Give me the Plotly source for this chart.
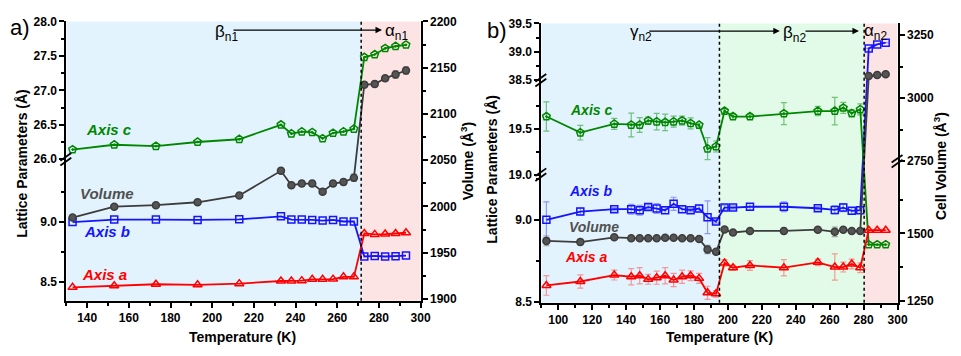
import plotly.graph_objects as go

# ---------------- data: panel a ----------------
T_a = [133, 153, 173, 193, 213, 233, 238, 243, 248, 253, 258, 263, 268, 273, 278, 283, 288, 293]
c_a = [26.14, 26.21, 26.19, 26.25, 26.29, 26.50, 26.37, 26.40, 26.39, 26.30, 26.38, 26.40, 26.44,
       27.48, 27.52, 27.61, 27.64, 27.66]
b_a = [8.998, 9.019, 9.019, 9.016, 9.021, 9.046, 9.019, 9.019, 9.016, 9.011, 9.016, 9.003, 9.003,
       8.710, 8.715, 8.710, 8.712, 8.718]
a_a = [8.452, 8.465, 8.478, 8.473, 8.483, 8.505, 8.505, 8.508, 8.519, 8.519, 8.521, 8.540, 8.540,
       8.903, 8.895, 8.898, 8.903, 8.909]
V_a = [1988, 1999.7, 2001.4, 2004.5, 2011.8, 2038.5, 2023, 2024.7, 2024.7, 2016, 2024.7, 2026.4, 2031,
       2131.6, 2132.3, 2138.5, 2142.7, 2147]
eV_a = [2, 2, 2, 2, 2, 3, 3, 3, 3, 3, 3, 3, 4, 3, 3, 3, 4, 4]
phase_a = [130, 271.5, 300]

# ---------------- data: panel b ----------------
T_b = [93, 113, 133, 143, 148, 153, 158, 163, 168, 173, 178, 183, 188, 193, 198, 203, 213, 233,
       253, 263, 268, 273, 278, 283, 288, 293]
b_b = [9.000, 9.051, 9.065, 9.065, 9.059, 9.078, 9.069, 9.059, 9.098, 9.065, 9.059, 9.069, 9.016,
       8.990, 9.075, 9.075, 9.080, 9.080, 9.071, 9.061, 9.075, 9.055, 9.059, 39.06, 39.13, 39.16]
c_b = [19.634, 19.458, 19.553, 19.542, 19.542, 19.589, 19.578, 19.571, 19.578, 19.589, 19.560,
       19.542, 19.283, 19.307, 19.694, 19.634, 19.634, 19.666, 19.694, 19.694, 19.729, 19.669,
       19.711, 8.849, 8.849, 8.849]
a_b = [8.600, 8.624, 8.663, 8.653, 8.659, 8.637, 8.647, 8.659, 8.633, 8.653, 8.659, 8.643, 8.555,
       8.549, 8.737, 8.708, 8.722, 8.708, 8.741, 8.712, 8.712, 8.731, 8.708, 8.937, 8.937, 8.937]
V_b = [1472.5, 1467.9, 1485.7, 1482, 1482, 1482, 1482, 1484.5, 1484.5, 1482, 1482, 1479.8, 1440.5,
       1432, 1514.3, 1503.6, 1509.5, 1509.5, 1514, 1506, 1514, 1509.5, 1509.5, 3087, 3091, 3094]
eb_b = [0.11, 0.02, 0.01, 0.03, 0.03, 0.015, 0.03, 0.02, 0.04, 0.02, 0.01, 0.02, 0.10, 0.01, 0.015,
        0.01, 0.02, 0.03, 0.01, 0.025, 0.025, 0.02, 0.02, 0, 0, 0]
ec_b = [0.16, 0.08, 0.06, 0.13, 0.08, 0.04, 0.09, 0.09, 0.06, 0.05, 0.06, 0.02, 0.12, 0.06, 0.02,
        0.03, 0.03, 0.12, 0.05, 0.15, 0.06, 0.04, 0.06, 0, 0, 0]
ea_b = [0.06, 0.04, 0.03, 0.05, 0.05, 0.03, 0.04, 0.05, 0.04, 0.04, 0.03, 0.03, 0.04, 0.02, 0.02,
        0.015, 0.03, 0.05, 0.02, 0.08, 0.03, 0.03, 0.03, 0, 0, 0]
eV_b = [18, 10, 6, 6, 5, 5, 5, 5, 5, 5, 5, 5, 15, 8, 5, 5, 6, 10, 6, 18, 6, 6, 8, 0, 0, 0]
phase_b = [90, 195, 280.3, 300]

# tick labels
ticks_aL = [8.5, 9.0, 26.0, 26.5, 27.0, 27.5, 28.0]
minor_aL = [8.75, 9.25, 26.25, 26.75, 27.25, 27.75]
ticks_bL = [8.5, 9.0, 19.0, 19.5, 38.5, 39.0, 39.5]
minor_bL = [8.75, 9.25, 19.25, 19.75, 38.75, 39.25]
ticks_bR = [1250, 1500, 2750, 3000, 3250]
minor_bR = [1375, 1625, 2875, 3125]

# broken-axis segments: (value_lo, value_hi, pos_lo, pos_hi) on a 0..290 track
SEG_AL = [(8.339, 9.524, 0, 147), (26.0, 28.0, 147, 290)]
SEG_BL = [(8.494, 9.276, 0, 133), (19.0, 20.03, 133, 231), (38.5, 39.5, 231, 290)]
SEG_BR = [(1243, 1768, 0, 147), (2750, 3296, 147, 290)]


def brk(v, segs):
    best, dist = None, None
    for lo, hi, p0, p1 in segs:
        if lo - 1e-9 <= v <= hi + 1e-9:
            return p0 + (v - lo) * (p1 - p0) / (hi - lo)
        d = min(abs(v - lo), abs(v - hi))
        if dist is None or d < dist:
            best, dist = (lo, hi, p0, p1), d
    lo, hi, p0, p1 = best
    return p0 + (v - lo) * (p1 - p0) / (hi - lo)


FONT = "Liberation Sans, Arial, sans-serif"
W, H = 961, 356
def px(x): return x / W
def py(y): return 1 - y / H

GREEN = "rgb(0,135,0)"
BLUE = "rgb(20,20,255)"
RED = "rgb(255,0,0)"
GRAY = "rgb(60,60,60)"
BG_BLUE = "rgb(226,243,253)"
BG_PINK = "rgb(253,228,228)"
BG_GREEN = "rgb(226,251,232)"

fig = go.Figure()


def series(x, vals, errs, segs, xa, ya, color, ecolor, symbol, size, fill=None):
    if segs is not None:
        y = [brk(v, segs) for v in vals]
        if errs is not None:
            ep = [brk(v + e, segs) - brk(v, segs) for v, e in zip(vals, errs)]
            em = [brk(v, segs) - brk(v - e, segs) for v, e in zip(vals, errs)]
    else:
        y = list(vals)
        if errs is not None:
            ep = list(errs)
            em = list(errs)
    err = None
    if errs is not None:
        err = dict(type="data", symmetric=False, array=ep, arrayminus=em,
                   color=ecolor, thickness=1.2, width=3)
    fig.add_trace(go.Scatter(
        x=x, y=y, xaxis=xa, yaxis=ya, mode="lines+markers",
        line=dict(color=color, width=1.8),
        marker=dict(symbol=symbol, size=size, color=fill if fill else color,
                    line=dict(color=color, width=1.5)),
        error_y=err, showlegend=False, hoverinfo="skip"))


# panel a
series(T_a, c_a, None, SEG_AL, "x", "y", GREEN, None, "pentagon-open-dot", 8)
series(T_a, V_a, eV_a, None, "x", "y2", GRAY, "rgba(90,90,90,0.55)", "circle", 7, fill="rgb(85,85,85)")
series(T_a, b_a, None, SEG_AL, "x", "y", BLUE, None, "square-open", 7)
series(T_a, a_a, None, SEG_AL, "x", "y", RED, None, "triangle-up-open", 8)

# panel b
series(T_b, V_b, eV_b, SEG_BR, "x2", "y4", GRAY, "rgba(90,90,90,0.55)", "circle", 7, fill="rgb(85,85,85)")
series(T_b, b_b, eb_b, SEG_BL, "x2", "y3", BLUE, "rgba(60,60,255,0.5)", "square-open", 7)
series(T_b, c_b, ec_b, SEG_BL, "x2", "y3", GREEN, "rgba(0,140,0,0.5)", "pentagon-open-dot", 8)
series(T_b, a_b, ea_b, SEG_BL, "x2", "y3", RED, "rgba(255,60,60,0.5)", "triangle-up-open", 8)

tickfont = dict(family=FONT, size=12, color="black", weight="bold")
common_x = dict(showline=True, linecolor="black", linewidth=2, ticks="outside", ticklen=5,
                tickwidth=1.5, tickcolor="black", dtick=20, showgrid=False, zeroline=False,
                minor=dict(dtick=10, ticks="outside", ticklen=3, tickwidth=1.5, tickcolor="black"),
                tickfont=tickfont)
top_x = dict(showline=True, linecolor="black", linewidth=2, ticks="inside", ticklen=5,
             tickwidth=1.5, tickcolor="black", dtick=20, showgrid=False, zeroline=False,
             showticklabels=False, side="top",
             minor=dict(dtick=10, ticks="inside", ticklen=3, tickwidth=1.5, tickcolor="black"))
common_y = dict(showline=True, linecolor="black", linewidth=2, ticks="outside", ticklen=5,
                tickwidth=1.5, tickcolor="black", showgrid=False, zeroline=False, tickfont=tickfont)


def yticks(vals, minors, segs, fmt):
    return dict(tickmode="array", tickvals=[brk(v, segs) for v in vals],
                ticktext=[fmt.format(v) for v in vals],
                minor=dict(tickmode="array", tickvals=[brk(v, segs) for v in minors],
                           ticks="outside", ticklen=3, tickwidth=1.5, tickcolor="black"))


fig.update_layout(
    width=W, height=H, autosize=False, margin=dict(l=0, r=0, t=0, b=0),
    plot_bgcolor="white", paper_bgcolor="white", showlegend=False,
    font=dict(family=FONT, color="black"),
    xaxis=dict(domain=[px(67), px(425)], range=[130, 300], anchor="y", **common_x),
    xaxis3=dict(overlaying="x", anchor="y", range=[130, 300], **top_x),
    yaxis=dict(domain=[py(305), py(15)], range=[0, 290], anchor="x",
               **yticks(ticks_aL, minor_aL, SEG_AL, "{:.1f}"), **common_y),
    yaxis2=dict(overlaying="y", side="right", anchor="x", range=[1897.9, 2200], dtick=50,
                minor=dict(dtick=25, ticks="outside", ticklen=3, tickwidth=1.5, tickcolor="black"),
                **common_y),
    xaxis2=dict(domain=[px(547), px(907)], range=[90, 300], anchor="y3", **common_x),
    xaxis4=dict(overlaying="x2", anchor="y3", range=[90, 300], **top_x),
    yaxis3=dict(domain=[py(307), py(17)], range=[0, 290], anchor="x2",
                **yticks(ticks_bL, minor_bL, SEG_BL, "{:.1f}"), **common_y),
    yaxis4=dict(overlaying="y3", side="right", anchor="x2", range=[0, 290],
                **yticks(ticks_bR, minor_bR, SEG_BR, "{:.0f}"), **common_y),
)

shapes = []
def band(xref, yref, x0, x1, color):
    shapes.append(dict(type="rect", xref=xref, yref=yref, x0=x0, x1=x1, y0=0, y1=1,
                       fillcolor=color, line=dict(width=0), layer="below"))
def vdot(xref, yref, x):
    shapes.append(dict(type="line", xref=xref, yref=yref, x0=x, x1=x, y0=0, y1=1,
                       line=dict(color="black", width=1.5, dash="dot")))

band("x", "y domain", phase_a[0], phase_a[1], BG_BLUE)
band("x", "y domain", phase_a[1], phase_a[2], BG_PINK)
vdot("x", "y domain", phase_a[1])
band("x2", "y3 domain", phase_b[0], phase_b[1], BG_BLUE)
band("x2", "y3 domain", phase_b[1], phase_b[2], BG_GREEN)
band("x2", "y3 domain", phase_b[2], phase_b[3], BG_PINK)
vdot("x2", "y3 domain", phase_b[1])
vdot("x2", "y3 domain", phase_b[2])


def breakmark(xref, yref, xside, yv, width_px):
    f = 1.0 / width_px
    for off in (-2.5, 2.5):
        shapes.append(dict(type="line", xref=xref, yref=yref,
                           x0=xside - 6 * f, x1=xside + 5 * f,
                           y0=yv + off - 4, y1=yv + off + 4,
                           line=dict(color="black", width=1.8)))

breakmark("x domain", "y", 0, brk(26.0, SEG_AL), 358)
breakmark("x2 domain", "y3", 0, brk(19.0, SEG_BL), 360)
breakmark("x2 domain", "y3", 0, brk(38.5, SEG_BL), 360)
breakmark("x2 domain", "y4", 1, brk(2750, SEG_BR), 360)

fig.update_layout(shapes=shapes)

ann = []
def text(x, y, s, size=14, color="black", angle=0, bold=True):
    ann.append(dict(x=px(x), y=py(y), xref="paper", yref="paper", text=s, showarrow=False,
                    textangle=angle, xanchor="center", yanchor="middle",
                    font=dict(family=FONT, size=size, color=color,
                              weight="bold" if bold else "normal")))
def arrow(x0, x1, y):
    ann.append(dict(x=px(x1), y=py(y), xref="paper", yref="paper", text="", showarrow=True,
                    ax=-(x1 - x0), ay=0, axref="pixel", ayref="pixel",
                    arrowhead=2, arrowsize=1, arrowwidth=1.3, arrowcolor="black"))

# panel a texts
text(20, 21, "a)", size=22, bold=False)
text(229, 27, "β<sub>n1</sub>", size=17, bold=False)
arrow(236, 386, 24)
text(401, 26, "α<sub>n1</sub>", size=17, bold=False)
text(110, 127, "<i>Axis c</i>", size=15, color=GREEN)
text(108, 194, "<i>Volume</i>", size=15, color="rgb(80,80,80)")
text(108, 233, "<i>Axis b</i>", size=15, color=BLUE)
text(106, 278, "<i>Axis a</i>", size=15, color=RED)
text(22, 162, "Lattice Parameters (Å)", size=14, angle=-90)
text(472, 160, "Volume (Å<sup>3</sup>)", size=14, angle=-90)
text(245, 343, "Temperature (K)", size=14)

# panel b texts
text(502, 24, "b)", size=22, bold=False)
text(648, 27, "γ<sub>n2</sub>", size=17, bold=False)
arrow(656, 788, 25)
text(803, 28, "β<sub>n2</sub>", size=17, bold=False)
arrow(813, 868, 25)
text(885, 26, "α<sub>n2</sub>", size=17, bold=False)
text(597, 107, "<i>Axis c</i>", size=14, color=GREEN)
text(597, 191, "<i>Axis b</i>", size=14, color=BLUE)
text(600, 228, "<i>Volume</i>", size=14, color="rgb(80,80,80)")
text(592, 259, "<i>Axis a</i>", size=14, color=RED)
text(497, 168, "Lattice Parameters (Å)", size=14, angle=-90)
text(950, 165, "Cell Volume (Å<sup>3</sup>)", size=14, angle=-90)
text(727, 343, "Temperature (K)", size=14)

fig.update_layout(annotations=ann)
fig.write_html("out.html")
